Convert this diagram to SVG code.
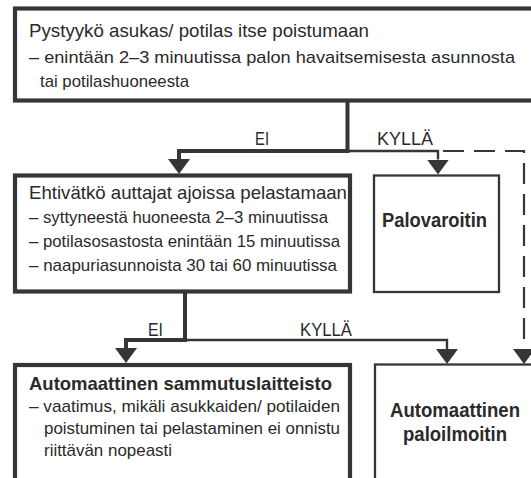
<svg xmlns="http://www.w3.org/2000/svg" width="531" height="478" viewBox="0 0 531 478">
<style>
.box{fill:#fff;stroke:#363636}
.thick{stroke-width:4.2}
.thin{stroke-width:2.3}
text{font-family:"Liberation Sans",Arial,sans-serif;fill:#2a2a2a}
.h{font-size:19px}
.s{font-size:17px}
.b{font-weight:bold}
.lbl{font-size:18.5px}
.c{fill:none;stroke:#363636}
.cw{stroke-width:4}
.cn{stroke-width:2.4}
.dash{stroke-width:2.2;stroke-dasharray:21 10}
</style>
<defs>
<marker id="ah" viewBox="0 0 15 22" refX="0" refY="11" markerWidth="15" markerHeight="22" markerUnits="userSpaceOnUse" orient="auto">
<path d="M0,0 L15,11 L0,22 z" fill="#363636"/>
</marker>
</defs>
<rect width="531" height="478" fill="#fff"/>
<g id="connectors">
<path class="c cw" d="M347.5,101 V151 H179 V159" marker-end="url(#ah)"/>
<path class="c cn" d="M347.5,151 H438 V159.5" marker-end="url(#ah)"/>
<path class="c dash" d="M443,151 H524 V349" marker-end="url(#ah)"/>
<path class="c cw" d="M185,293 V340 H126 V348" marker-end="url(#ah)"/>
<path class="c cn" d="M185,340 H447 V349" marker-end="url(#ah)"/>
<text class="lbl" x="255" y="145" textLength="14" lengthAdjust="spacingAndGlyphs">EI</text>
<text class="lbl" x="377" y="145" textLength="56" lengthAdjust="spacingAndGlyphs">KYLLÄ</text>
<text class="lbl" x="148" y="336" textLength="15" lengthAdjust="spacingAndGlyphs">EI</text>
<text class="lbl" x="300" y="336" textLength="52" lengthAdjust="spacingAndGlyphs">KYLLÄ</text>
</g>
<g id="n1">
<rect class="box thick" x="15" y="8.5" width="540" height="92"/>
<text class="h" x="29" y="37" textLength="340" lengthAdjust="spacingAndGlyphs">Pystyykö asukas/ potilas itse poistumaan</text>
<text class="s" x="29" y="63" textLength="486" lengthAdjust="spacingAndGlyphs">– enintään 2–3 minuutissa palon havaitsemisesta asunnosta</text>
<text class="s" x="40" y="87" textLength="149" lengthAdjust="spacingAndGlyphs">tai potilashuoneesta</text>
</g>
<g id="n2">
<rect class="box thick" x="15" y="175.5" width="335" height="116"/>
<text class="h" x="29" y="199" textLength="318" lengthAdjust="spacingAndGlyphs">Ehtivätkö auttajat ajoissa pelastamaan</text>
<text class="s" x="29" y="223" textLength="299" lengthAdjust="spacingAndGlyphs">– syttyneestä huoneesta 2–3 minuutissa</text>
<text class="s" x="29" y="247" textLength="311" lengthAdjust="spacingAndGlyphs">– potilasosastosta enintään 15 minuutissa</text>
<text class="s" x="29" y="271" textLength="308" lengthAdjust="spacingAndGlyphs">– naapuriasunnoista 30 tai 60 minuutissa</text>
</g>
<g id="n3">
<rect class="box thin" x="374" y="175.5" width="125" height="116.5"/>
<text class="b" x="382" y="227" font-size="20" textLength="105" lengthAdjust="spacingAndGlyphs">Palovaroitin</text>
</g>
<g id="n4">
<rect class="box thick" x="15" y="365" width="335" height="130"/>
<text class="h b" x="29" y="390" textLength="303" lengthAdjust="spacingAndGlyphs">Automaattinen sammutuslaitteisto</text>
<text class="s" x="29" y="412" textLength="311" lengthAdjust="spacingAndGlyphs">– vaatimus, mikäli asukkaiden/ potilaiden</text>
<text class="s" x="44" y="434" textLength="296" lengthAdjust="spacingAndGlyphs">poistuminen tai pelastaminen ei onnistu</text>
<text class="s" x="44" y="456" textLength="128" lengthAdjust="spacingAndGlyphs">riittävän nopeasti</text>
</g>
<g id="n5">
<rect class="box thin" x="375" y="364.5" width="170" height="130"/>
<text class="b" x="390" y="417" font-size="19.5" textLength="130" lengthAdjust="spacingAndGlyphs">Automaattinen</text>
<text class="b" x="403" y="441" font-size="19.5" textLength="104" lengthAdjust="spacingAndGlyphs">paloilmoitin</text>
</g>
</svg>
